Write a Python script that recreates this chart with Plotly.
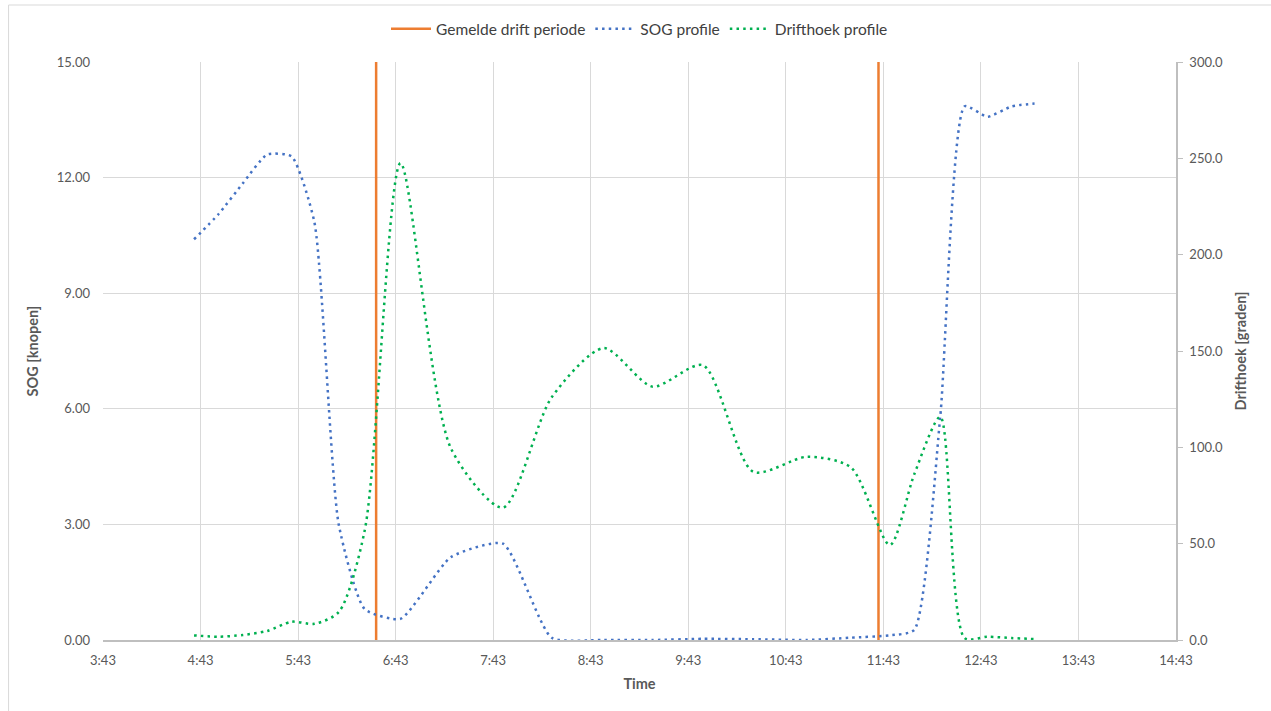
import pandas as pd
import plotly.graph_objects as go

# Sample times (hh:mm) shared by both profiles
times = ["4:39", "4:54", "5:09", "5:24", "5:39", "5:53", "6:08", "6:24", "6:46",
         "7:17", "7:49", "8:19", "8:51", "9:21", "9:52", "10:23", "10:56", "11:23",
         "11:47", "12:02", "12:18", "12:33", "12:47", "13:02", "13:16"]

# Speed over ground [knots]
sog = [10.4, 11.05, 11.85, 12.6, 12.55, 10.85, 3.0, 0.8, 0.55,
       2.15, 2.5, 0.06, 0.0, 0.0, 0.03, 0.02, 0.0, 0.06,
       0.12, 0.26, 5.8, 13.85, 13.58, 13.85, 13.92]

# Drift angle [degrees]
drifthoek = [2.4, 1.7, 2.6, 4.7, 9.5, 8.4, 14.5, 57.0, 247.5,
             99.5, 68.7, 126.0, 151.5, 131.5, 142.6, 87.3, 95.1, 89.6,
             49.3, 86.0, 115.8, 1.0, 1.7, 1.0, 0.5]

# Reported drift period (start, end)
drift_periode = ["6:31", "11:40"]

x_ticks = ["3:43", "4:43", "5:43", "6:43", "7:43", "8:43", "9:43",
           "10:43", "11:43", "12:43", "13:43", "14:43"]

DAY = "2024-01-01 "


def to_dt(values):
    return pd.to_datetime([DAY + v for v in values])


t = to_dt(times)
t_drift = to_dt(drift_periode)
t_ticks = to_dt(x_ticks)

FONT = "Lato"
GREY_TXT = "#595959"
GRID = "#d9d9d9"
TICK_FONT = dict(family=FONT, size=13, color=GREY_TXT)
TITLE_FONT = dict(family=FONT, size=14.5, color=GREY_TXT)

fig = go.Figure()

# vertical markers for the reported drift period
vx, vy = [], []
for td in t_drift:
    vx += [td, td, None]
    vy += [0, 15, None]
fig.add_trace(go.Scatter(
    x=vx, y=vy, mode="lines", name="Gemelde drift periode",
    line=dict(color="#ED7D31", width=2.5), connectgaps=False,
))

fig.add_trace(go.Scatter(
    x=t, y=sog, mode="lines", name="SOG profile",
    line=dict(color="#4472C4", width=2.5, dash="2.5px,4.2px", shape="spline", smoothing=0.55),
))

fig.add_trace(go.Scatter(
    x=t, y=drifthoek, mode="lines", name="Drifthoek profile", yaxis="y2",
    line=dict(color="#00B050", width=2.5, dash="2.5px,4.2px", shape="spline", smoothing=0.75),
))

fig.update_layout(
    width=1271, height=711,
    margin=dict(l=102.5, r=95, t=62, b=71),
    paper_bgcolor="white", plot_bgcolor="white",
    font=dict(family=FONT, size=12, color=GREY_TXT),
    showlegend=True,
    legend=dict(orientation="h", x=0.5, xanchor="center", y=1.057, yanchor="middle",
                font=dict(family=FONT, size=15.5, color="#404040"),
                traceorder="normal", itemwidth=40),
    xaxis=dict(
        type="date",
        range=[t_ticks[0], t_ticks[-1]],
        tickvals=list(t_ticks), ticktext=x_ticks,
        showgrid=True, gridcolor=GRID, gridwidth=1,
        showline=True, linecolor="#bfbfbf", linewidth=1.5,
        ticks="", ticklabelstandoff=8,
        tickfont=TICK_FONT,
        title=dict(text="<b>Time</b>", font=TITLE_FONT, standoff=12),
        zeroline=False,
    ),
    yaxis=dict(
        range=[0, 15], tickvals=[0, 3, 6, 9, 12, 15], tickformat=".2f",
        showgrid=True, gridcolor=GRID, gridwidth=1,
        showline=False, zeroline=False, ticks="", ticklabelstandoff=12,
        tickfont=TICK_FONT,
        title=dict(text="<b>SOG [knopen]</b>", font=TITLE_FONT, standoff=14),
    ),
    yaxis2=dict(
        range=[0, 300], tickvals=[0, 50, 100, 150, 200, 250, 300], tickformat=".1f",
        overlaying="y", side="right", showgrid=False, zeroline=False,
        showline=True, linecolor="#bfbfbf", linewidth=1.5,
        ticks="outside", ticklen=5, tickcolor="#bfbfbf", ticklabelstandoff=4,
        tickfont=TICK_FONT,
        title=dict(text="<b>Drifthoek [graden]</b>", font=TITLE_FONT, standoff=14),
    ),
    shapes=[dict(type="rect", xref="paper", yref="paper",
                 x0=-0.088, x1=1.097, y0=-0.14, y1=1.0986,
                 line=dict(color="#d9d9d9", width=1), fillcolor="rgba(0,0,0,0)", layer="below")],
)

fig.write_html("out.html")
